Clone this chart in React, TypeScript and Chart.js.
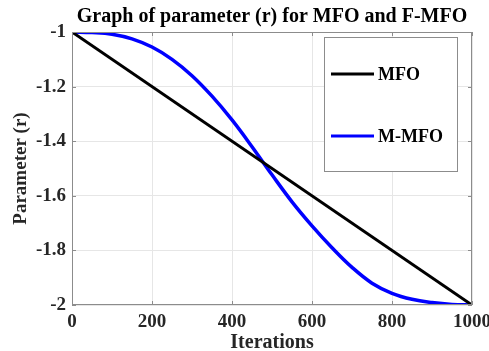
import React, { useEffect, useRef } from "react";
import { Chart, registerables } from "chart.js";

Chart.register(...registerables);

const titleText = "Graph of parameter (r) for MFO and F-MFO";
const xTitle = "Iterations";
const yTitle = "Parameter (r)";

const xTickValues = [0, 200, 400, 600, 800, 1000];
const yTickValues = [-1, -1.2, -1.4, -1.6, -1.8, -2];
const yTickLabels = ["-1", "-1.2", "-1.4", "-1.6", "-1.8", "-2"];

const mfoIter = [0, 1000];
const mfoValues = [-1, -2];

const mmfoIter = [0, 50, 100, 150, 200, 250, 300, 350, 400, 450, 500, 550, 600, 650, 700, 750, 800, 850, 900, 950, 1000];
const mmfoValues = [-1.0, -1.002, -1.008, -1.025, -1.055, -1.1, -1.16, -1.235, -1.322, -1.42, -1.523, -1.622, -1.71, -1.79, -1.862, -1.92, -1.957, -1.979, -1.991, -1.998, -2.0];

const seriesNames = ["MFO", "M-MFO"];
const seriesColors = ["#000000", "#0000ff"];

const SERIF = "'Liberation Serif', 'Times New Roman', serif";
const TEXT = "#262626";
const FRAME = "#8c8c8c";

const framePlugin = {
  id: "frameTicks",
  afterDatasetsDraw(chart: any) {
    const { ctx, chartArea: a, scales } = chart;
    ctx.save();
    ctx.strokeStyle = FRAME;
    ctx.lineWidth = 1;
    ctx.strokeRect(a.left + 0.5, a.top + 0.5, a.right - a.left - 1, a.bottom - a.top - 1);
    const tl = 4;
    ctx.beginPath();
    for (const v of xTickValues) {
      const x = Math.round(scales.x.getPixelForValue(v)) + 0.5;
      ctx.moveTo(x, a.bottom);
      ctx.lineTo(x, a.bottom - tl);
      ctx.moveTo(x, a.top);
      ctx.lineTo(x, a.top + tl);
    }
    for (const v of yTickValues) {
      const y = Math.round(scales.y.getPixelForValue(v)) + 0.5;
      ctx.moveTo(a.left, y);
      ctx.lineTo(a.left + tl, y);
      ctx.moveTo(a.right, y);
      ctx.lineTo(a.right - tl, y);
    }
    ctx.stroke();
    ctx.restore();
  },
  afterDraw(chart: any) {
    const { ctx, chartArea: a } = chart;
    ctx.save();
    ctx.fillStyle = "#000";
    ctx.font = `bold 20px ${SERIF}`;
    ctx.textAlign = "center";
    ctx.textBaseline = "middle";
    ctx.fillText(titleText, (a.left + a.right) / 2, 17);
    const bx = 324, by = 37, bw = 133, bh = 134;
    ctx.fillStyle = "#fff";
    ctx.fillRect(bx, by, bw, bh);
    ctx.strokeStyle = FRAME;
    ctx.lineWidth = 1;
    ctx.strokeRect(bx + 0.5, by + 0.5, bw, bh);
    const rows = [74, 136];
    ctx.font = `bold 18px ${SERIF}`;
    ctx.textAlign = "left";
    ctx.textBaseline = "middle";
    seriesNames.forEach((name, i) => {
      ctx.strokeStyle = seriesColors[i];
      ctx.lineWidth = 3;
      ctx.beginPath();
      ctx.moveTo(331, rows[i]);
      ctx.lineTo(374, rows[i]);
      ctx.stroke();
      ctx.fillStyle = "#000";
      ctx.fillText(name, 378, rows[i] + 1);
    });
    ctx.restore();
  },
};

export default function App() {
  const ref = useRef<HTMLCanvasElement>(null);
  useEffect(() => {
    const canvas = ref.current!;
    const chart = new Chart(canvas, {
      type: "line",
      data: {
        datasets: [
          {
            label: seriesNames[0],
            data: mfoIter.map((x, i) => ({ x, y: mfoValues[i] })),
            borderColor: seriesColors[0],
            borderWidth: 3,
            pointRadius: 0,
            tension: 0,
          },
          {
            label: seriesNames[1],
            data: mmfoIter.map((x, i) => ({ x, y: mmfoValues[i] })),
            borderColor: seriesColors[1],
            borderWidth: 3.5,
            pointRadius: 0,
            tension: 0.4,
          },
        ],
      },
      options: {
        responsive: false,
        animation: false,
        devicePixelRatio: 1,
        layout: { padding: { left: 0, top: 32, right: 17, bottom: 0 } },
        plugins: { legend: { display: false }, tooltip: { enabled: false }, title: { display: false } },
        scales: {
          x: {
            type: "linear",
            min: 0,
            max: 1000,
            afterBuildTicks: (s: any) => {
              s.ticks = xTickValues.map((v) => ({ value: v }));
            },
            afterFit: (s: any) => {
              s.height = 46;
              s.paddingLeft = 0;
              s.paddingRight = 0;
            },
            ticks: {
              color: TEXT,
              font: { family: SERIF, size: 19, weight: "bold" },
              padding: 6,
              maxRotation: 0,
              autoSkip: false,
              callback: (v: any) => String(v),
            },
            grid: { color: "#e6e6e6", drawTicks: false },
            border: { display: false },
            title: {
              display: true,
              text: xTitle,
              color: TEXT,
              font: { family: SERIF, size: 20, weight: "bold", lineHeight: 0.85 },
              padding: { top: 0, bottom: 0 },
            },
          },
          y: {
            type: "linear",
            min: -2,
            max: -1,
            afterBuildTicks: (s: any) => {
              s.ticks = yTickValues.map((v) => ({ value: v }));
            },
            afterFit: (s: any) => {
              s.width = 72;
              s.paddingTop = 0;
              s.paddingBottom = 0;
            },
            ticks: {
              color: TEXT,
              font: { family: SERIF, size: 19, weight: "bold" },
              padding: 6,
              autoSkip: false,
              callback: (v: any) => {
                const i = yTickValues.findIndex((t) => Math.abs(t - v) < 1e-9);
                return i >= 0 ? yTickLabels[i] : "";
              },
            },
            grid: { color: "#e6e6e6", drawTicks: false },
            border: { display: false },
            title: {
              display: true,
              text: yTitle,
              color: TEXT,
              font: { family: SERIF, size: 19, weight: "bold", lineHeight: 1 },
              padding: { top: 12, bottom: 0 },
            },
          },
        },
      },
      plugins: [framePlugin],
    });
    return () => chart.destroy();
  }, []);
  return (
    <canvas
      ref={ref}
      width={489}
      height={351}
      style={{ position: "absolute", left: 0, top: 0, width: 489, height: 351 }}
    />
  );
}
